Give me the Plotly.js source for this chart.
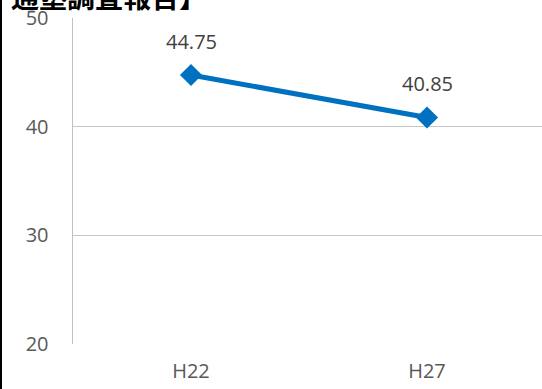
<!DOCTYPE html>
<html>
<head>
<meta charset="utf-8">
<script src="https://cdn.plot.ly/plotly-3.0.1.min.js"></script>
<style>
html,body{margin:0;padding:0;overflow:hidden;background:#fff;}
#wrap{position:relative;width:542px;height:389px;overflow:hidden;}
#chart{position:absolute;left:0;top:0;width:545px;height:389px;}
#edge{position:absolute;left:0;top:0;width:2px;height:389px;background:#000;}
</style>
</head>
<body>
<div id="wrap"><div id="chart"></div><div id="edge"></div></div>
<script>
const categories = ["H22", "H27"];
const values = [44.75, 40.85];
const valueLabels = ["44.75", "40.85"];
const yTicks = [20, 30, 40, 50];
const titleText = "通塾調査報告】";

const trace = {
  x: categories,
  y: values,
  type: "scatter",
  mode: "lines+markers",
  line: {color: "#0070C0", width: 5},
  marker: {symbol: "diamond", size: 17, color: "#0070C0"},
  hoverinfo: "none",
  cliponaxis: false
};

const annotations = categories.map((c, i) => ({
  x: c, y: values[i], xref: "x", yref: "y",
  text: valueLabels[i], showarrow: false, yshift: 34,
  font: {family: "Open Sans", size: 20, color: "#404040"}
}));
annotations.push({
  xref: "paper", yref: "paper", x: -0.135, y: 1.068,
  xanchor: "left", yanchor: "middle", showarrow: false,
  text: "<b>" + titleText + "</b>",
  font: {family: "Noto Sans CJK JP", size: 28, color: "#000"}
});

const layout = {
  width: 545, height: 389,
  margin: {l: 73, r: 0, t: 18, b: 45, pad: 0},
  paper_bgcolor: "#fff", plot_bgcolor: "#fff",
  showlegend: false,
  font: {family: "Open Sans", size: 20, color: "#595959"},
  xaxis: {
    type: "category", range: [-0.5, 1.5],
    showgrid: false, zeroline: false, showline: false,
    ticks: "", ticklabelstandoff: 13,
    tickfont: {family: "Open Sans", size: 20, color: "#595959"}
  },
  yaxis: {
    range: [20, 50], tickvals: yTicks, ticktext: yTicks.map(String),
    showgrid: true, gridcolor: "#C6C6C6", gridwidth: 1.5,
    zeroline: false, showline: true, linecolor: "#C0C0C0", linewidth: 1.5,
    ticks: "", ticklabelstandoff: 19,
    tickfont: {family: "Open Sans", size: 20, color: "#595959"}
  },
  annotations: annotations
};

Plotly.newPlot("chart", [trace], layout, {staticPlot: true, displayModeBar: false});
</script>
</body>
</html>
